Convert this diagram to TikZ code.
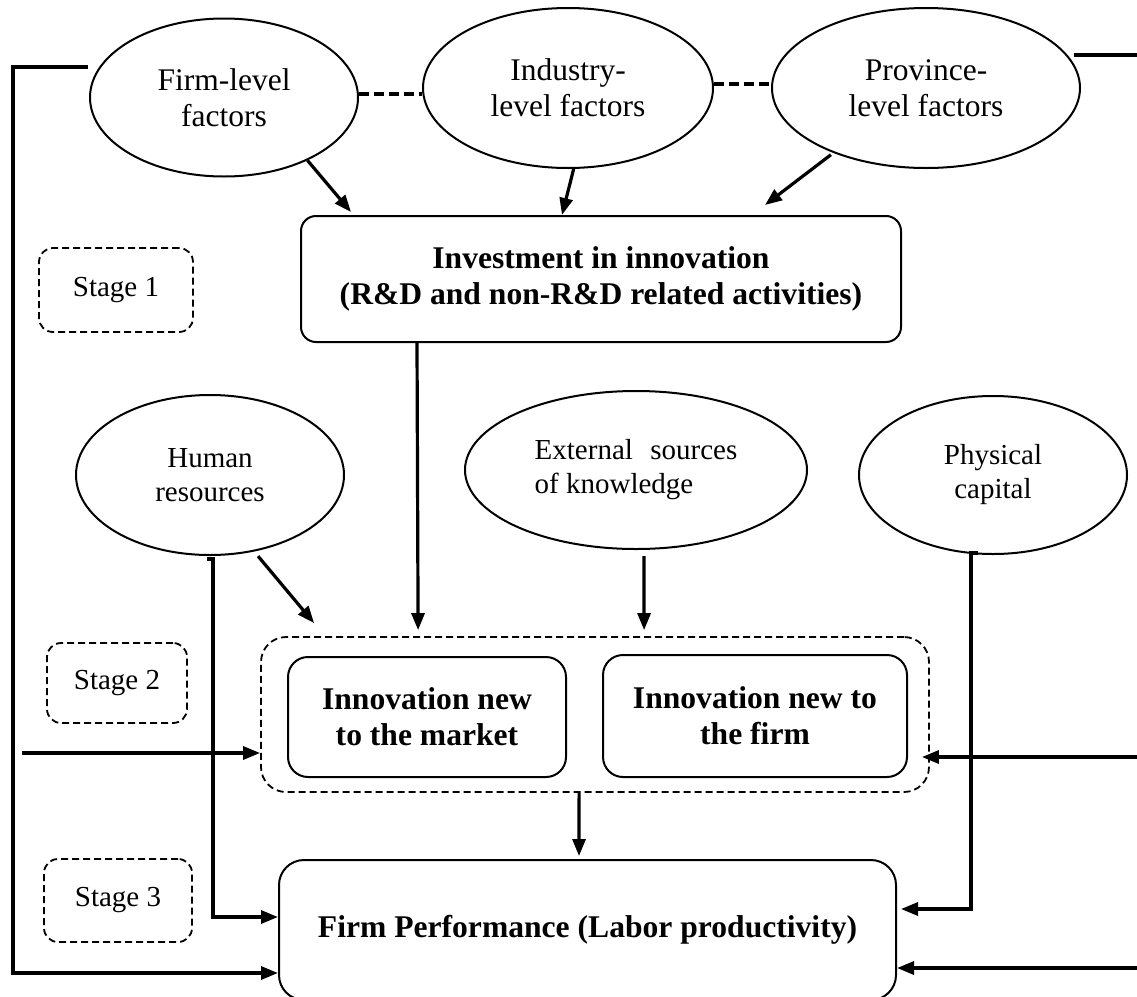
\documentclass[tikz,border=0pt]{standalone}
\usepackage{fontspec}
\setmainfont{Liberation Serif}
\usetikzlibrary{arrows.meta,shapes.geometric}
\begin{document}
\begin{tikzpicture}[x=1pt,y=1pt,
  factor/.style={ellipse, draw, line width=2pt, inner sep=0pt, align=center},
  topfont/.style={font=\fontsize{31.5}{36}\selectfont},
  lowfont/.style={font=\fontsize{29}{34}\selectfont},
  boldbox/.style={draw, rounded corners=#1, line width=2pt, align=center, inner sep=0pt,
    font=\fontsize{31.6}{36}\selectfont\bfseries},
  boldbox/.default=20pt,
  stagebox/.style={draw, rounded corners=14pt, line width=1.8pt, dash pattern=on 7pt off 4pt,
    inner sep=0pt, font=\fontsize{29}{34}\selectfont},
  groupbox/.style={draw, rounded corners=25pt, line width=1.8pt, dash pattern=on 7pt off 4pt, inner sep=0pt},
  arr/.style={line width=3.2pt, -{Triangle[length=17pt,width=13pt]}},
  link/.style={line width=3.2pt},
  tie/.style={line width=3.2pt, dash pattern=on 10pt off 5pt}
]
\useasboundingbox (0,0) rectangle (1137,-996);

% stage 1: determinants of innovation investment
\node[factor, topfont, minimum width=268, minimum height=158] (firm) at (224,-97.5) {Firm-level\\factors};
\node[factor, topfont, minimum width=290, minimum height=160] (industry) at (568,-88) {Industry-\\level factors};
\node[factor, topfont, minimum width=308, minimum height=160] (province) at (926,-88) {Province-\\level factors};
\node[boldbox=15pt, minimum width=600, minimum height=126] (inv) at (601,-279)
  {Investment in innovation\\(R\&D and non-R\&D related activities)};

% stage 2: innovation output
\node[factor, lowfont, minimum width=268, minimum height=160] (human) at (210,-475) {Human\\resources};
\node[factor, lowfont, minimum width=342, minimum height=158, align=left] (ext) at (636,-470)
  {External\hspace{0.35em} sources\\of knowledge};
\node[factor, lowfont, minimum width=268, minimum height=158] (phys) at (993,-475) {Physical\\capital};
\node[groupbox, minimum width=668, minimum height=155] (group) at (595,-714.5) {};
\node[boldbox=20pt, minimum width=278, minimum height=120] (market) at (427,-717) {Innovation new\\to the market};
\node[boldbox=20pt, minimum width=304, minimum height=122] (firmnew) at (755,-716) {Innovation new to\\the firm};

% stage 3: performance
\node[boldbox=25pt, minimum width=617, minimum height=140] (perf) at (587.5,-930)
  {Firm Performance (Labor productivity)};

% stage labels
\node[stagebox, minimum width=154, minimum height=84] (s1) at (116,-290) {Stage 1};
\node[stagebox, minimum width=140, minimum height=80] (s2) at (117,-683) {Stage 2};
\node[stagebox, minimum width=148, minimum height=83] (s3) at (118,-900.5) {Stage 3};

% free ends of the feedback lines
\coordinate (inL) at (22,-753);
\coordinate (inR) at (1137,-757);
\coordinate (inBR) at (1137,-968);
\coordinate (outTR) at (1137,-55);

% links between the factor levels
\draw[tie] ([yshift=3.5pt]firm.east) -- ([yshift=-6pt]industry.west);
\draw[tie] ([yshift=4pt]industry.east) -- ([yshift=4pt]province.west);

% into the investment box
\draw[arr] (firm.-37.5) -- ([xshift=51pt,yshift=3pt]inv.north west);
\draw[arr] (industry.-86) -- ([xshift=262pt]inv.north west);
\draw[arr, shorten <=3pt] (province.215) -- ([xshift=465pt,yshift=10pt]inv.north west);

% into the innovation outputs
\draw[arr] ([xshift=117pt]inv.south west) -- ([xshift=158pt,yshift=6pt]group.north west);
\draw[arr, shorten <=6pt] (human.-60) -- ([xshift=54pt,yshift=13pt]group.north west);
\draw[arr] ([xshift=8pt,yshift=-6pt]ext.south) -- ([xshift=384pt,yshift=6pt]group.north west);
\draw[arr] (inL) -- ([yshift=-38.5pt]group.west);
\draw[arr] (inR) -- ([xshift=-8pt,yshift=-42.5pt]group.east);

% into firm performance
\draw[arr] ([xshift=319pt]group.south west) -- ([xshift=301pt,yshift=3pt]perf.north west);
\draw[arr] ([xshift=-3pt,yshift=-3pt]human.south) -- ([xshift=3pt,yshift=-3pt]human.south)
  |- ([yshift=13pt]perf.west);
\draw[arr] ([xshift=-15pt,yshift=2pt]phys.south) -- ([xshift=-22pt,yshift=2pt]phys.south)
  |- ([xshift=4pt,yshift=21pt]perf.east);
\draw[arr] (inBR) -- ([yshift=-38pt]perf.east);
\draw[arr] ([xshift=-1pt,yshift=30.5pt]firm.west) -- ++(-75,0) |- ([yshift=-43pt]perf.west);
\draw[link] ([xshift=-7pt,yshift=33pt]province.east) -- (outTR);
\end{tikzpicture}
\end{document}
